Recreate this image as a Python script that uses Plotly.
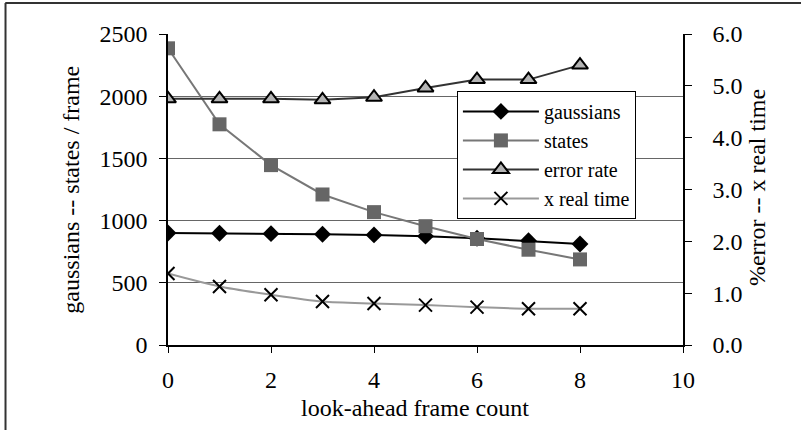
import plotly.graph_objects as go

# look-ahead frame counts
frames = [0, 1, 2, 3, 4, 5, 6, 7, 8]

# left axis series
gaussians = [900, 898, 895, 890, 885, 875, 858, 838, 812]
states = [2385, 1774, 1446, 1210, 1068, 955, 852, 766, 688]

# right axis series
error_rate = [4.75, 4.75, 4.75, 4.73, 4.78, 4.96, 5.12, 5.12, 5.40]
real_time = [1.38, 1.13, 0.97, 0.84, 0.80, 0.77, 0.73, 0.70, 0.70]

left_ticks = [0, 500, 1000, 1500, 2000, 2500]
right_ticks = [0, 1, 2, 3, 4, 5, 6]
x_ticks = [0, 2, 4, 6, 8, 10]

serif = "Liberation Serif"

fig = go.Figure()

fig.add_trace(go.Scatter(
    x=frames, y=gaussians, name="gaussians", mode="lines+markers",
    line=dict(color="#000000", width=2),
    marker=dict(symbol="diamond", size=13, color="#000000"),
))
fig.add_trace(go.Scatter(
    x=frames, y=states, name="states", mode="lines+markers",
    line=dict(color="#777777", width=2),
    marker=dict(symbol="square", size=14, color="#666666"),
))
fig.add_trace(go.Scatter(
    x=frames, y=error_rate, name="error rate", mode="lines+markers", yaxis="y2",
    line=dict(color="#333333", width=2),
    marker=dict(symbol="triangle-up", size=14, color="#b4b4b4",
                line=dict(color="#000000", width=2)),
))
fig.add_trace(go.Scatter(
    x=frames, y=real_time, name="x real time", mode="lines+markers", yaxis="y2",
    line=dict(color="#999999", width=2, shape="spline", smoothing=0.8),
    marker=dict(symbol="x-thin", size=13, color="#000000",
                line=dict(color="#000000", width=2)),
))

fig.update_layout(
    width=801, height=430,
    margin=dict(l=168, r=118, t=34, b=85),
    paper_bgcolor="white", plot_bgcolor="white",
    font=dict(family=serif, size=24, color="#000000"),
    showlegend=True,
    legend=dict(
        x=0.561, y=0.817, xanchor="left", yanchor="top",
        bgcolor="white", bordercolor="#000000", borderwidth=1,
        font=dict(family=serif, size=20, color="#000000"),
        itemwidth=76, entrywidth=125, entrywidthmode="pixels",
    ),
    xaxis=dict(
        range=[0, 10], tickvals=x_ticks, showgrid=False, zeroline=False,
        showline=True, linecolor="#000000", linewidth=1.5,
        ticks="outside", ticklen=6, tickcolor="#000000",
        ticklabelstandoff=6,
        tickfont=dict(family=serif, size=24),
    ),
    yaxis=dict(
        range=[0, 2500], tickvals=left_ticks, showgrid=True,
        gridcolor="#666666", gridwidth=1, zeroline=False,
        showline=True, linecolor="#000000", linewidth=1.5,
        ticks="outside", ticklen=7, tickcolor="#000000",
        ticklabelstandoff=7,
        tickfont=dict(family=serif, size=24),
    ),
    yaxis2=dict(
        range=[0, 6], tickvals=right_ticks, tickformat=".1f",
        overlaying="y", side="right", showgrid=False, zeroline=False,
        showline=True, linecolor="#000000", linewidth=1.5,
        ticks="outside", ticklen=7, tickcolor="#000000",
        ticklabelstandoff=16,
        tickfont=dict(family=serif, size=24),
    ),
    annotations=[
        dict(text="gaussians -- states / frame", xref="paper", yref="paper",
             x=-0.19, y=0.5, textangle=-90, showarrow=False,
             xanchor="center", yanchor="middle",
             font=dict(family=serif, size=24)),
        dict(text="%error -- x real time", xref="paper", yref="paper",
             x=1.144, y=0.505, textangle=-90, showarrow=False,
             xanchor="center", yanchor="middle",
             font=dict(family=serif, size=24)),
        dict(text="look-ahead frame count", xref="paper", yref="paper",
             x=0.48, y=-0.203, showarrow=False,
             xanchor="center", yanchor="middle",
             font=dict(family=serif, size=24)),
    ],
    shapes=[
        dict(type="line", xref="paper", yref="paper",
             x0=-0.316, x1=1.26, y0=1.0995, y1=1.0995,
             line=dict(color="#333333", width=2)),
        dict(type="line", xref="paper", yref="paper",
             x0=-0.3155, x1=-0.3155, y0=1.0995, y1=-0.28,
             line=dict(color="#333333", width=2)),
    ],
)

# drop the page's default body margin so the figure sits at the window origin
fig.write_html("out.html", config=dict(displayModeBar=False),
               post_script="document.body.style.margin='0';")
